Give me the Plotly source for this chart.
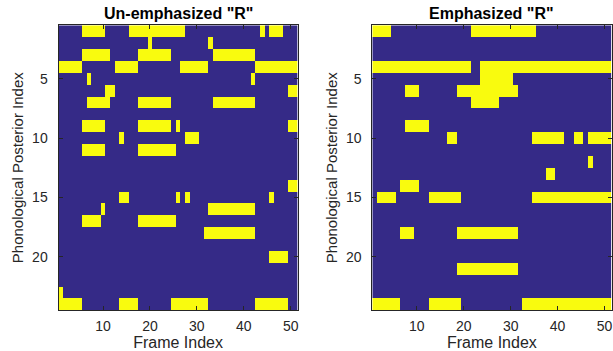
import plotly.graph_objects as go

frames = list(range(1, 52))
posteriors = list(range(1, 25))
x_ticks = [10, 20, 30, 40, 50]
y_ticks = [5, 10, 15, 20]

# Active (yellow) frame runs per phonological posterior row, (first, last) inclusive
unemph_runs = {
    1: [(6, 10), (16, 27), (44, 44), (46, 48)],
    2: [(20, 20), (33, 33)],
    3: [(6, 11), (18, 24), (34, 42)],
    4: [(1, 5), (13, 17), (27, 32), (43, 51)],
    5: [(7, 7), (42, 42)],
    6: [(11, 12), (50, 51)],
    7: [(7, 11), (18, 24), (34, 42)],
    9: [(6, 10), (18, 24), (26, 26), (50, 51)],
    10: [(14, 14), (28, 30)],
    11: [(6, 10), (18, 25)],
    14: [(50, 51)],
    15: [(14, 15), (26, 26), (28, 28), (46, 46)],
    16: [(10, 10), (33, 42)],
    17: [(6, 9), (18, 25)],
    18: [(32, 42)],
    20: [(46, 49)],
    23: [(1, 1)],
    24: [(1, 5), (14, 17), (25, 32), (43, 49)],
}

emph_runs = {
    1: [(1, 4), (22, 35)],
    4: [(1, 21), (24, 51)],
    5: [(24, 30)],
    6: [(8, 10), (19, 31)],
    7: [(22, 27)],
    9: [(8, 12)],
    10: [(17, 18), (35, 41), (44, 45), (47, 51)],
    12: [(47, 47)],
    13: [(38, 39)],
    14: [(7, 10)],
    15: [(2, 5), (13, 19), (35, 51)],
    18: [(7, 9), (19, 31)],
    21: [(19, 31)],
    24: [(1, 6), (13, 19), (33, 51)],
}


def to_matrix(runs):
    return [[1 if any(s <= f <= e for s, e in runs.get(r, [])) else 0 for f in frames]
            for r in posteriors]


BLUE = "#352A87"
YELLOW = "#F9FB0E"
cs = [[0, BLUE], [1, YELLOW]]
AX = "#262626"
FONT = "Liberation Sans, Arial, Helvetica, sans-serif"

fig = go.Figure()
fig.add_trace(go.Heatmap(z=to_matrix(unemph_runs), x=frames, y=posteriors, colorscale=cs,
                         zmin=0, zmax=1, showscale=False, xaxis="x", yaxis="y"))
fig.add_trace(go.Heatmap(z=to_matrix(emph_runs), x=frames, y=posteriors, colorscale=cs,
                         zmin=0, zmax=1, showscale=False, xaxis="x2", yaxis="y2"))

W, H = 613, 351
left1, right1 = 58.5, 297.7
left2, right2 = 372.3, 611.5
top, bottom = 25.3, 310.1

common_x = dict(range=[0.5, 51.5], tickvals=x_ticks, ticks="inside", ticklen=4, tickcolor=AX,
                showline=True, linecolor=AX, linewidth=1, mirror="ticks", showgrid=False,
                zeroline=False, ticklabelstandoff=3, tickfont=dict(family=FONT, size=14, color=AX),
                title=dict(text="Frame Index", font=dict(family=FONT, size=16, color=AX), standoff=0))
common_y = dict(range=[24.5, 0.5], tickvals=y_ticks, ticks="inside", ticklen=4, tickcolor=AX,
                showline=True, linecolor=AX, linewidth=1, mirror="ticks", showgrid=False,
                zeroline=False, ticklabelstandoff=7, tickfont=dict(family=FONT, size=14, color=AX),
                title=dict(text="Phonological Posterior Index", font=dict(family=FONT, size=15, color=AX),
                           standoff=4))

fig.update_layout(
    width=W, height=H, margin=dict(l=0, r=0, t=0, b=0),
    paper_bgcolor="white", plot_bgcolor="white",
    xaxis=dict(domain=[left1 / W, right1 / W], anchor="y", **common_x),
    yaxis=dict(domain=[(H - bottom) / H, (H - top) / H], anchor="x", **common_y),
    xaxis2=dict(domain=[left2 / W, right2 / W], anchor="y2", **common_x),
    yaxis2=dict(domain=[(H - bottom) / H, (H - top) / H], anchor="x2", **common_y),
    annotations=[
        dict(text="<b>Un-emphasized \"R\"</b>", x=(left1 + right1) / 2 / W, y=(H - 13.5) / H,
             xref="paper", yref="paper", showarrow=False, xanchor="center", yanchor="middle",
             font=dict(family=FONT, size=16, color="black")),
        dict(text="<b>Emphasized \"R\"</b>", x=(left2 + right2) / 2 / W, y=(H - 13.5) / H,
             xref="paper", yref="paper", showarrow=False, xanchor="center", yanchor="middle",
             font=dict(family=FONT, size=16, color="black")),
    ],
)

fig.write_html("out.html", config={"displayModeBar": False},
               post_script="document.body.style.margin='0';document.body.style.overflow='hidden';")
